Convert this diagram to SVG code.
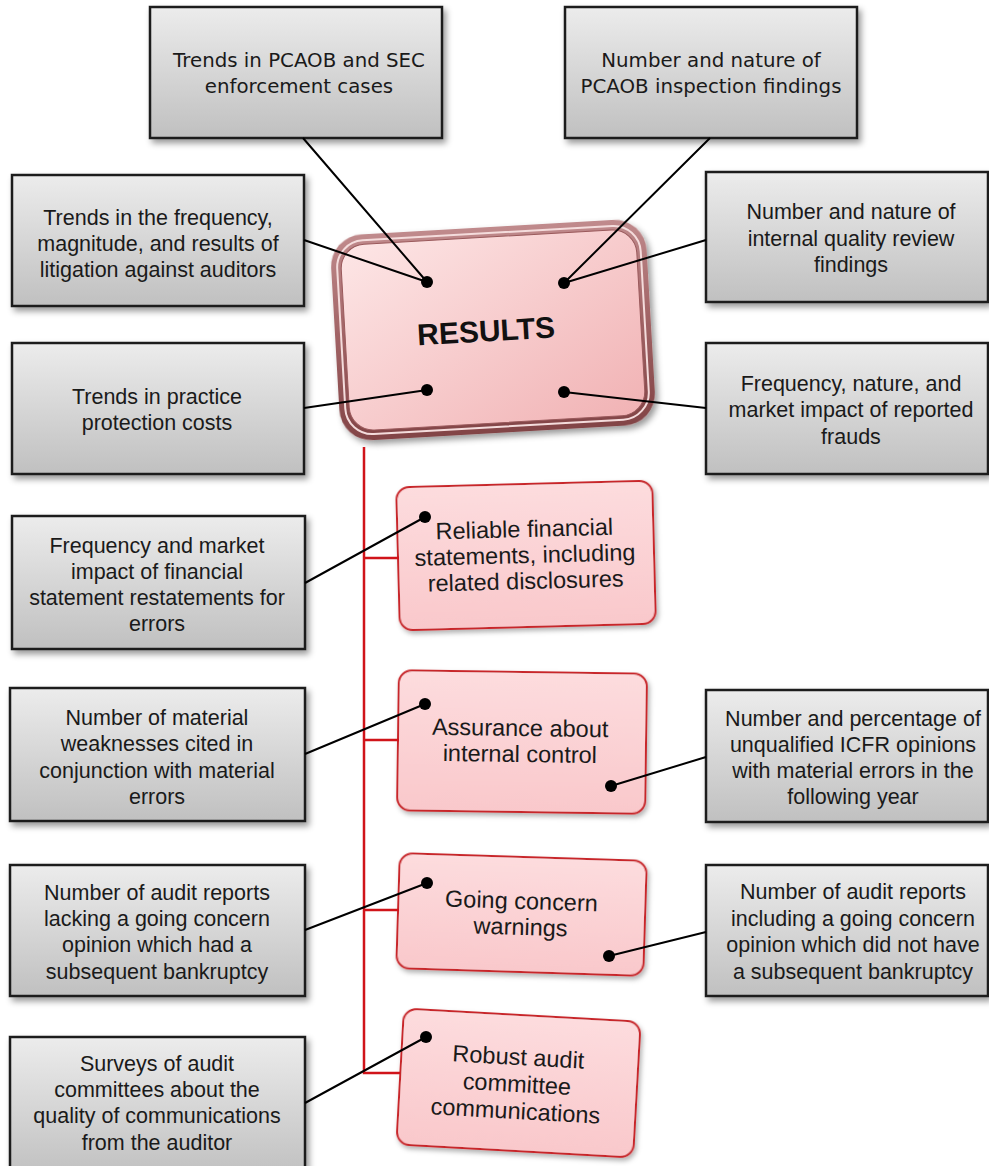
<svg xmlns="http://www.w3.org/2000/svg" width="989" height="1166" viewBox="0 0 989 1166">
<defs>
<linearGradient id="gGray" x1="0" y1="0" x2="0" y2="1">
<stop offset="0" stop-color="#ececec"/><stop offset="1" stop-color="#c0c0c0"/>
</linearGradient>
<linearGradient id="gPink" x1="0" y1="0" x2="0" y2="1">
<stop offset="0" stop-color="#fddcde"/><stop offset="1" stop-color="#f9c8cb"/>
</linearGradient>
<linearGradient id="gRes" x1="0" y1="0" x2="1" y2="1">
<stop offset="0" stop-color="#fde6e6"/><stop offset="1" stop-color="#f1b2b4"/>
</linearGradient>
<linearGradient id="gFrame" x1="0" y1="0" x2="0" y2="1">
<stop offset="0" stop-color="#c08a8c"/><stop offset="0.5" stop-color="#a06264"/><stop offset="1" stop-color="#824446"/>
</linearGradient>
<filter id="sh" x="-10%" y="-10%" width="125%" height="130%">
<feDropShadow dx="3" dy="4" stdDeviation="3" flood-color="#000" flood-opacity="0.4"/>
</filter>
<filter id="sh2" x="-10%" y="-10%" width="125%" height="130%">
<feDropShadow dx="2" dy="3" stdDeviation="2.5" flood-color="#000" flood-opacity="0.3"/>
</filter>
</defs>
<style>
.gbox{fill:url(#gGray);stroke:#1c1c1c;stroke-width:2.5;filter:url(#sh)}
.pbox{fill:url(#gPink);stroke:#c8262b;stroke-width:2;filter:url(#sh2)}
.t{font-family:"Liberation Sans",Arial,sans-serif;font-size:21.5px;fill:#1a1a1a;text-anchor:middle}
.tv{font-family:"DejaVu Sans",Verdana,sans-serif;font-size:19.8px;fill:#1a1a1a;text-anchor:middle}
.tp{font-family:"Liberation Sans",Arial,sans-serif;font-size:23.5px;fill:#1a1a1a;text-anchor:middle}
.ln{stroke:#000;stroke-width:2;fill:none}
.red{stroke:#d0141a;stroke-width:2.5;fill:none}
.dot{fill:#000}
</style>
<rect width="989" height="1166" fill="#fff"/>

<g id="results" transform="translate(493,330) rotate(-3.3)">
<rect x="-158" y="-103" width="316" height="206" rx="32" fill="url(#gFrame)" filter="url(#sh)"/>
<rect x="-152" y="-97" width="304" height="194" rx="27" fill="none" stroke="#f4dcdc" stroke-width="2"/>
<rect x="-148" y="-93" width="296" height="186" rx="24" fill="url(#gRes)" stroke="#9a5a5c" stroke-width="1"/>
<text x="-7" y="11" style="font-family:'Liberation Sans',Arial,sans-serif;font-size:30px;font-weight:bold;fill:#111;text-anchor:middle">RESULTS</text>
</g>

<g id="p1" transform="rotate(-1.5 526 555)">
<rect class="pbox" x="398" y="484" width="256" height="143" rx="13"/>
<text class="tp" x="525" y="537">Reliable financial</text>
<text class="tp" x="525" y="563">statements, including</text>
<text class="tp" x="525" y="589">related disclosures</text>
</g>
<g id="p2" transform="rotate(0.8 522 742)">
<rect class="pbox" x="398" y="672" width="248" height="140" rx="13"/>
<text class="tp" x="520" y="736">Assurance about</text>
<text class="tp" x="520" y="762">internal control</text>
</g>
<g id="p3" transform="rotate(1.8 522 915)">
<rect class="pbox" x="398" y="857" width="247" height="115" rx="13"/>
<text class="tp" x="521" y="909">Going concern</text>
<text class="tp" x="521" y="935">warnings</text>
</g>
<g id="p4" transform="rotate(3.2 518 1083)">
<rect class="pbox" x="400" y="1015" width="237" height="136" rx="13"/>
<text class="tp" x="517" y="1065">Robust audit</text>
<text class="tp" x="517" y="1092">committee</text>
<text class="tp" x="517" y="1119">communications</text>
</g>

<g id="g1"><rect class="gbox" x="150" y="7" width="292" height="131"/>
<text class="tv" x="299" y="67">Trends in PCAOB and SEC</text>
<text class="tv" x="299" y="93">enforcement cases</text></g>
<g id="g2"><rect class="gbox" x="565" y="7" width="292" height="131"/>
<text class="tv" x="711" y="67">Number and nature of</text>
<text class="tv" x="711" y="93">PCAOB inspection findings</text></g>
<g id="g3"><rect class="gbox" x="12" y="175" width="292" height="131"/>
<text class="t" x="158" y="225">Trends in the frequency,</text>
<text class="t" x="158" y="251">magnitude,  and results of</text>
<text class="t" x="158" y="277">litigation  against auditors</text></g>
<g id="g4"><rect class="gbox" x="706" y="172" width="282" height="130"/>
<text class="t" x="851" y="219">Number and nature of</text>
<text class="t" x="851" y="246">internal quality review</text>
<text class="t" x="851" y="272">findings</text></g>
<g id="g5"><rect class="gbox" x="12" y="343" width="292" height="131"/>
<text class="t" x="157" y="404">Trends in practice</text>
<text class="t" x="157" y="430">protection costs</text></g>
<g id="g6"><rect class="gbox" x="706" y="343" width="282" height="131"/>
<text class="t" x="851" y="391">Frequency, nature, and</text>
<text class="t" x="851" y="417">market impact of reported</text>
<text class="t" x="851" y="444">frauds</text></g>
<g id="g7"><rect class="gbox" x="12" y="516" width="293" height="133"/>
<text class="t" x="157" y="553">Frequency and market</text>
<text class="t" x="157" y="579">impact of financial</text>
<text class="t" x="157" y="605">statement restatements for</text>
<text class="t" x="157" y="631">errors</text></g>
<g id="g8"><rect class="gbox" x="10" y="688" width="295" height="133"/>
<text class="t" x="157" y="725">Number of material</text>
<text class="t" x="157" y="751">weaknesses cited in</text>
<text class="t" x="157" y="778">conjunction with material</text>
<text class="t" x="157" y="804">errors</text></g>
<g id="g9"><rect class="gbox" x="706" y="690" width="282" height="132"/>
<text class="t" x="853" y="726">Number and percentage of</text>
<text class="t" x="853" y="752">unqualified  ICFR opinions</text>
<text class="t" x="853" y="778">with material errors in the</text>
<text class="t" x="853" y="804">following  year</text></g>
<g id="g10"><rect class="gbox" x="10" y="865" width="295" height="131"/>
<text class="t" x="157" y="900">Number of audit reports</text>
<text class="t" x="157" y="926">lacking a going concern</text>
<text class="t" x="157" y="952">opinion which had a</text>
<text class="t" x="157" y="979">subsequent bankruptcy</text></g>
<g id="g11"><rect class="gbox" x="706" y="865" width="282" height="131"/>
<text class="t" x="853" y="899">Number of audit reports</text>
<text class="t" x="853" y="926">including a going concern</text>
<text class="t" x="853" y="952">opinion which did not have</text>
<text class="t" x="853" y="979">a subsequent bankruptcy</text></g>
<g id="g12"><rect class="gbox" x="10" y="1037" width="295" height="140"/>
<text class="t" x="157" y="1071">Surveys of audit</text>
<text class="t" x="157" y="1097">committees about the</text>
<text class="t" x="157" y="1123">quality of communications</text>
<text class="t" x="157" y="1150">from the auditor</text></g>

<g id="connectors">
<path class="red" d="M364,447 V1073 H400 M364,558 H399 M364,740 H399 M364,910 H399"/>
<path class="ln" d="M303,138 L427,282 M304,240 L427,282 M710,138 L564,283 M706,240 L564,283 M304,408 L427,390 M706,408 L564,392 M305,583 L425,517 M305,754 L425,704 M706,757 L611,786 M305,930 L427,883 M706,932 L609,956 M305,1103 L426,1037"/>
<circle class="dot" cx="427" cy="282" r="6"/>
<circle class="dot" cx="564" cy="283" r="6"/>
<circle class="dot" cx="427" cy="390" r="6"/>
<circle class="dot" cx="564" cy="392" r="6"/>
<circle class="dot" cx="425" cy="517" r="6"/>
<circle class="dot" cx="425" cy="704" r="6"/>
<circle class="dot" cx="611" cy="786" r="6"/>
<circle class="dot" cx="427" cy="883" r="6"/>
<circle class="dot" cx="609" cy="956" r="6"/>
<circle class="dot" cx="426" cy="1037" r="6"/>
</g>
</svg>
